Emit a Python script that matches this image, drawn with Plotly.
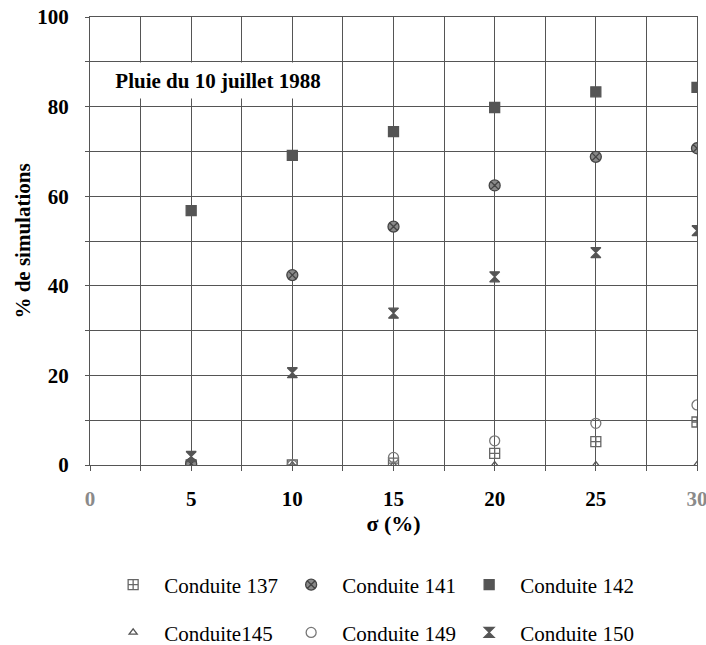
import plotly.graph_objects as go

sigma = [5, 10, 15, 20, 25, 30]

c137 = [0, 0, 0.4, 2.6, 5.2, 9.6]
c141 = [0.3, 42.4, 53.2, 62.4, 68.8, 70.7]
c142 = [56.8, 69.1, 74.4, 79.8, 83.3, 84.3]
c145 = [0, 0, 0, 0, 0, 0]
c149 = [0, 0, 1.7, 5.4, 9.3, 13.4]
c150 = [1.9, 20.6, 33.9, 42.0, 47.4, 52.3]

x_ticks = [0, 2.5, 5, 7.5, 10, 12.5, 15, 17.5, 20, 22.5, 25, 27.5, 30]
x_labels = ["<span style='color:#8a8a8a'>0</span>", "", "5", "", "10", "", "15", "", "20", "", "25", "",
            "<span style='color:#8a8a8a'>30</span>"]
y_ticks = [0, 10, 20, 30, 40, 50, 60, 70, 80, 90, 100]
y_labels = ["0", "", "20", "", "40", "", "60", "", "80", "", "100"]

FONT = "Liberation Serif, Times New Roman, serif"

series = [
    ("Conduite145", c145, "triangle-up-open", "#555555", 7, "legend2"),
    ("Conduite 137", c137, "square-cross-open", "#666666", 10, "legend"),
    ("Conduite 149", c149, "circle-open", "#777777", 10, "legend2"),
    ("Conduite 141", c141, "circle-x", "#8a8a8a", 11, "legend"),
    ("Conduite 142", c142, "square", "#555555", 10, "legend"),
    ("Conduite 150", c150, "hourglass", "#555555", 10, "legend2"),
]

legend_rank = {"Conduite 137": 1, "Conduite 141": 2, "Conduite 142": 3,
               "Conduite145": 4, "Conduite 149": 5, "Conduite 150": 6}

fig = go.Figure()
for name, vals, sym, col, size, leg in series:
    line_col = "#444444" if sym == "circle-x" else col
    fig.add_trace(go.Scatter(
        x=sigma, y=vals, mode="markers", name=name, legend=leg,
        legendrank=legend_rank[name],
        marker=dict(symbol=sym, size=size, color=col,
                    line=dict(color=line_col, width=1.3)),
    ))

fig.add_annotation(
    x=0.3, y=85.8, xref="x", yref="y", xanchor="left", yanchor="middle",
    text="<b>Pluie du 10 juillet 1988</b>", showarrow=False,
    font=dict(family=FONT, size=21, color="black"),
    bgcolor="white", width=240, height=33, align="center",
)

legend_style = dict(orientation="h", xanchor="left", yanchor="middle", yref="container",
                    entrywidth=111, itemwidth=52, traceorder="normal",
                    font=dict(family=FONT, size=21))

fig.update_layout(
    width=706, height=645,
    paper_bgcolor="white", plot_bgcolor="white",
    margin=dict(l=90, r=9, t=17, b=180, autoexpand=False),
    font=dict(family=FONT, color="black"),
    legend=dict(legend_style, x=0.02, y=0.093),
    legend2=dict(legend_style, x=0.02, y=0.019),
)

fig.update_xaxes(
    range=[0, 30], tickvals=x_ticks, ticktext=x_labels, automargin=False,
    ticklabeloverflow="allow",
    showgrid=True, gridcolor="#555555", gridwidth=1.2,
    showline=True, linecolor="#555555", linewidth=1.2, mirror=True,
    ticks="outside", ticklen=5, tickcolor="#555555", ticklabelstandoff=10,
    tickfont=dict(family=FONT, size=21, color="black", weight="bold"),
    title=dict(text="<b>σ (%)</b>", font=dict(family=FONT, size=22), standoff=4),
    zeroline=False,
)
fig.update_yaxes(
    range=[0, 100], tickvals=y_ticks, ticktext=y_labels, automargin=False,
    showgrid=True, gridcolor="#555555", gridwidth=1.2,
    showline=True, linecolor="#555555", linewidth=1.2, mirror=True,
    ticks="outside", ticklen=4, tickcolor="#555555", ticklabelstandoff=12,
    tickfont=dict(family=FONT, size=21, color="black", weight="bold"),
    title=dict(text="<b>% de simulations</b>", font=dict(family=FONT, size=21), standoff=0),
    zeroline=False,
)

fig.write_html("out.html", config={"displayModeBar": False},
               post_script="document.body.style.margin = '0';")
